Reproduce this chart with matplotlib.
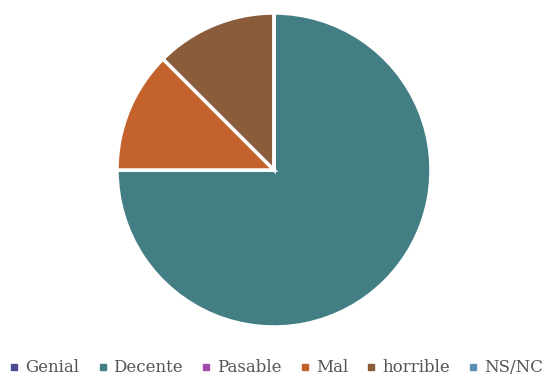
import matplotlib.pyplot as plt
from matplotlib.lines import Line2D

labels = ["Genial", "Decente", "Pasable", "Mal", "horrible", "NS/NC"]
values = [0, 6, 0, 1, 1, 0]
colors = ["#4b4a8e", "#427e84", "#a04ca8", "#c3622c", "#8b5c3c", "#5a8fb4"]

fig = plt.figure(figsize=(5.5, 3.8), dpi=100)
ax = fig.add_axes([117 / 550, 53 / 380, 314 / 550, 314 / 380])

ax.pie(values, colors=colors, startangle=90, counterclock=False,
       wedgeprops=dict(edgecolor="white", linewidth=2.5))
ax.set_xlim(-1, 1)
ax.set_ylim(-1, 1)
ax.set_aspect("equal")

handles = [Line2D([], [], marker="s", linestyle="none", markersize=4.5,
                  markerfacecolor=c, markeredgecolor=c) for c in colors]
fig.legend(handles, labels, loc="center", bbox_to_anchor=(0.503, 12 / 380),
           ncol=6, frameon=False, handlelength=0.5, handletextpad=0.4,
           columnspacing=1.15,
           prop=dict(family="DejaVu Serif", size=12), labelcolor="#555555")

fig.savefig("out.png", dpi=100)
